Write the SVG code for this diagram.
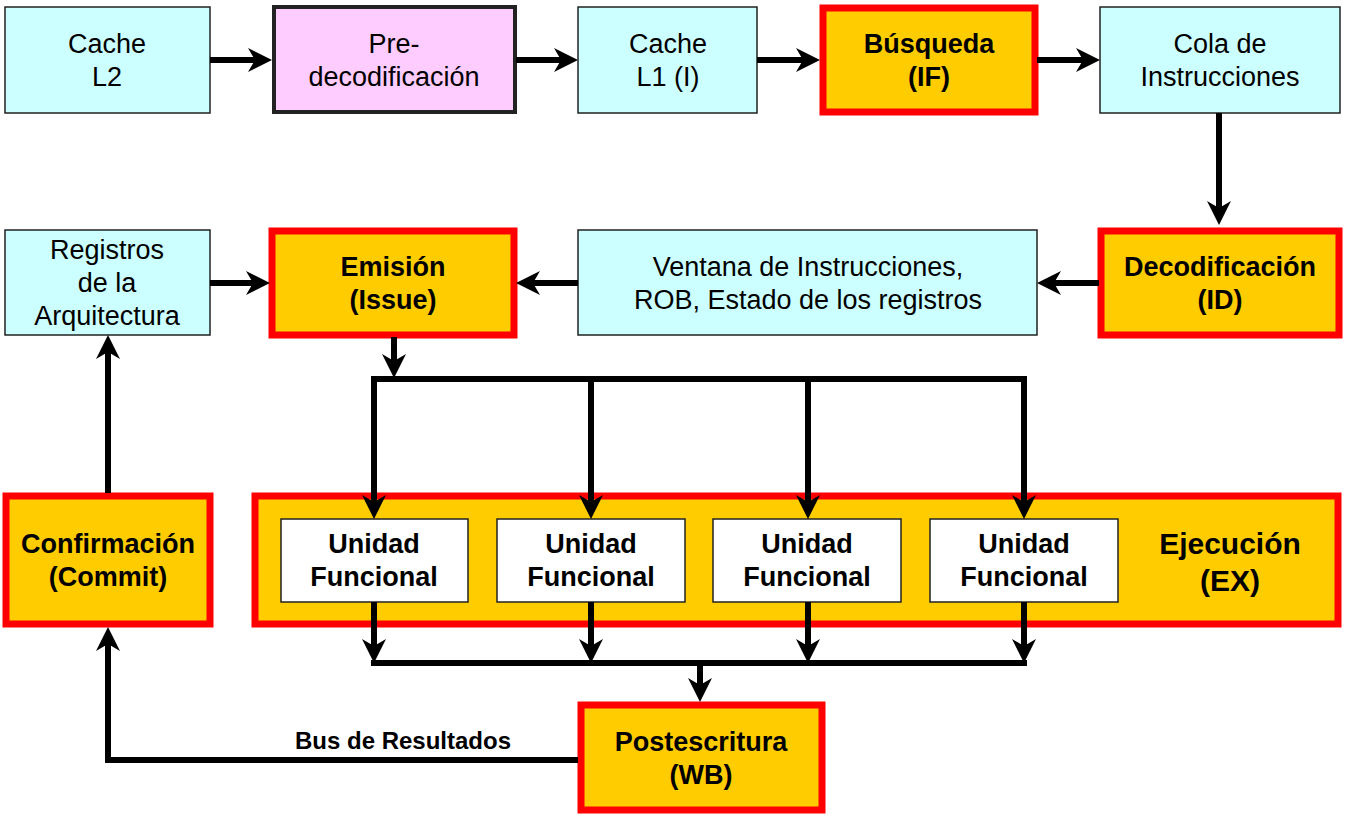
<svg xmlns="http://www.w3.org/2000/svg" width="1350" height="819" viewBox="0 0 1350 819">
<style>
  .lb{fill:#CCFFFF;stroke:#222;stroke-width:1.5}
  .st{fill:#FFCC00;stroke:#FF0000;stroke-width:7}
  .fu{fill:#FFFFFF;stroke:#222;stroke-width:1.5}
  .t{font-family:"Liberation Sans",Arial,sans-serif;font-size:27px;fill:#000;text-anchor:middle}
  .b{font-weight:bold}
  .c{fill:none;stroke:#000;stroke-width:6}
</style>
<defs>
  <marker id="ah" markerUnits="userSpaceOnUse" markerWidth="26" markerHeight="26" refX="16" refY="12" orient="auto" viewBox="0 0 26 26">
    <path d="M0,0 L24,12 L0,24 L7,12 z" fill="#000"/>
  </marker>
</defs>
<rect width="1350" height="819" fill="#fff"/>

<g id="cacheL2"><rect class="lb" x="5" y="7" width="205" height="106"/>
  <text class="t" x="107" y="53">Cache</text><text class="t" x="107" y="86">L2</text></g>
<g id="predecod"><rect x="274" y="7" width="241" height="105" fill="#FFCCFF" stroke="#222" stroke-width="4"/>
  <text class="t" x="394" y="53">Pre-</text><text class="t" x="394" y="86">decodificación</text></g>
<g id="cacheL1"><rect class="lb" x="578" y="7" width="179" height="106"/>
  <text class="t" x="668" y="53">Cache</text><text class="t" x="668" y="86">L1 (I)</text></g>
<g id="busqueda"><rect class="st" x="823" y="8" width="212" height="104"/>
  <text class="t b" x="929" y="53">Búsqueda</text><text class="t b" x="929" y="86">(IF)</text></g>
<g id="cola"><rect class="lb" x="1100" y="7" width="240" height="106"/>
  <text class="t" x="1220" y="53">Cola de</text><text class="t" x="1220" y="86">Instrucciones</text></g>

<g id="decod"><rect class="st" x="1101" y="231" width="238" height="104"/>
  <text class="t b" x="1220" y="276">Decodificación</text><text class="t b" x="1220" y="309">(ID)</text></g>
<g id="ventana"><rect class="lb" x="578" y="230" width="459" height="105"/>
  <text class="t" x="808" y="276">Ventana de Instrucciones,</text><text class="t" x="808" y="309">ROB, Estado de los registros</text></g>
<g id="emision"><rect class="st" x="272" y="231" width="242" height="104"/>
  <text class="t b" x="393" y="276">Emisión</text><text class="t b" x="393" y="309">(Issue)</text></g>
<g id="registros"><rect class="lb" x="5" y="230" width="205" height="105"/>
  <text class="t" x="107" y="259">Registros</text><text class="t" x="107" y="292">de la</text><text class="t" x="107" y="325">Arquitectura</text></g>

<g id="confirmacion"><rect class="st" x="6" y="496" width="204" height="128"/>
  <text class="t b" x="108" y="553">Confirmación</text><text class="t b" x="108" y="586">(Commit)</text></g>
<g id="ejecucion"><rect class="st" x="255" y="496" width="1083" height="128"/>
  <text class="t b" x="1230" y="554" style="font-size:30px">Ejecución</text><text class="t b" x="1230" y="591" style="font-size:30px">(EX)</text></g>
<g id="uf1"><rect class="fu" x="281" y="519" width="187" height="83"/>
  <text class="t b" x="374" y="553">Unidad</text><text class="t b" x="374" y="586">Funcional</text></g>
<g id="uf2"><rect class="fu" x="497" y="519" width="188" height="83"/>
  <text class="t b" x="591" y="553">Unidad</text><text class="t b" x="591" y="586">Funcional</text></g>
<g id="uf3"><rect class="fu" x="713" y="519" width="188" height="83"/>
  <text class="t b" x="807" y="553">Unidad</text><text class="t b" x="807" y="586">Funcional</text></g>
<g id="uf4"><rect class="fu" x="930" y="519" width="188" height="83"/>
  <text class="t b" x="1024" y="553">Unidad</text><text class="t b" x="1024" y="586">Funcional</text></g>

<g id="postescritura"><rect class="st" x="581" y="705" width="241" height="105"/>
  <text class="t b" x="701" y="751">Postescritura</text><text class="t b" x="701" y="784">(WB)</text></g>

<g id="connectors">
  <line class="c" x1="210" y1="60" x2="264" y2="60" marker-end="url(#ah)"/>
  <line class="c" x1="516" y1="60" x2="570" y2="60" marker-end="url(#ah)"/>
  <line class="c" x1="757" y1="60" x2="812" y2="60" marker-end="url(#ah)"/>
  <line class="c" x1="1037" y1="60" x2="1092" y2="60" marker-end="url(#ah)"/>
  <line class="c" x1="1219" y1="113" x2="1219" y2="217" marker-end="url(#ah)"/>
  <line class="c" x1="1099" y1="283" x2="1045" y2="283" marker-end="url(#ah)"/>
  <line class="c" x1="578" y1="283" x2="524" y2="283" marker-end="url(#ah)"/>
  <line class="c" x1="210" y1="283" x2="262" y2="283" marker-end="url(#ah)"/>
  <line class="c" x1="394" y1="337" x2="394" y2="370" marker-end="url(#ah)"/>
  <line class="c" x1="371" y1="379" x2="1027" y2="379"/>
  <line class="c" x1="374" y1="379" x2="374" y2="511" marker-end="url(#ah)"/>
  <line class="c" x1="591" y1="379" x2="591" y2="511" marker-end="url(#ah)"/>
  <line class="c" x1="808" y1="379" x2="808" y2="511" marker-end="url(#ah)"/>
  <line class="c" x1="1024" y1="379" x2="1024" y2="511" marker-end="url(#ah)"/>
  <line class="c" x1="374" y1="602" x2="374" y2="655" marker-end="url(#ah)"/>
  <line class="c" x1="591" y1="602" x2="591" y2="655" marker-end="url(#ah)"/>
  <line class="c" x1="808" y1="602" x2="808" y2="655" marker-end="url(#ah)"/>
  <line class="c" x1="1024" y1="602" x2="1024" y2="655" marker-end="url(#ah)"/>
  <line class="c" x1="371" y1="663" x2="1027" y2="663"/>
  <line class="c" x1="700" y1="663" x2="700" y2="694" marker-end="url(#ah)"/>
  <polyline class="c" points="578,760 108,760 108,635" marker-end="url(#ah)"/>
  <line class="c" x1="108" y1="493" x2="108" y2="343" marker-end="url(#ah)"/>
  <text class="t b" x="403" y="749" style="font-size:24px">Bus de Resultados</text>
</g>
</svg>
